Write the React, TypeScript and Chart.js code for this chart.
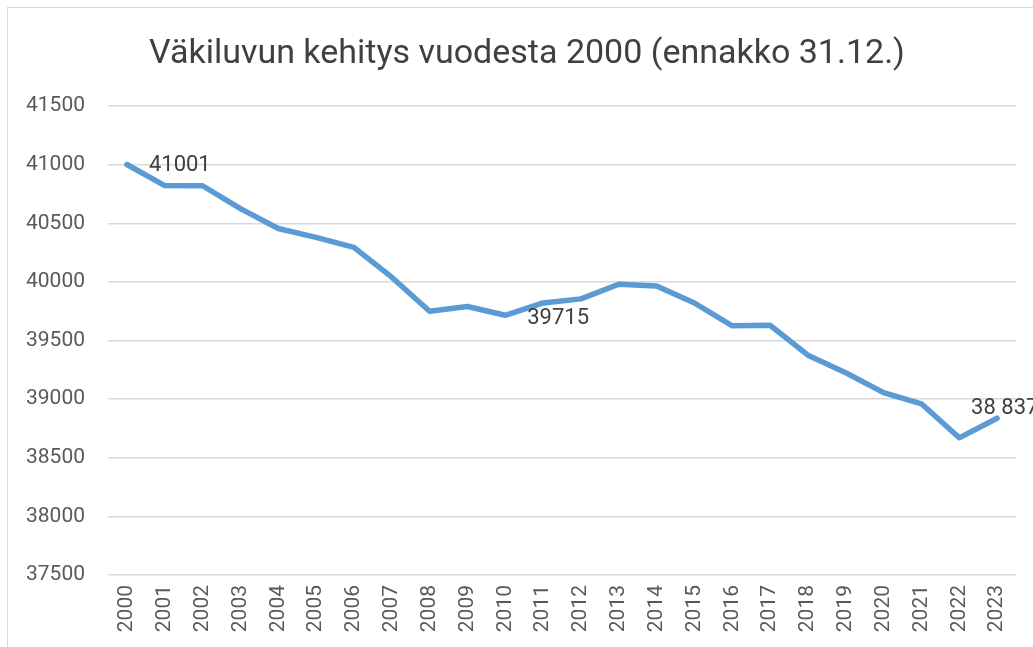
import React, { useEffect, useRef } from "react";
import { Chart, registerables } from "chart.js";

Chart.register(...registerables);

const years = [
  "2000", "2001", "2002", "2003", "2004", "2005", "2006", "2007", "2008", "2009", "2010", "2011",
  "2012", "2013", "2014", "2015", "2016", "2017", "2018", "2019", "2020", "2021", "2022", "2023",
];

const population = [
  41001, 40821, 40820, 40625, 40455, 40380, 40295, 40040, 39750, 39790, 39715, 39820,
  39855, 39980, 39965, 39820, 39625, 39630, 39375, 39225, 39055, 38960, 38670, 38837,
];

const labelledIndices = [0, 10, 23];
const labelTexts = ["41001", "39715", "38 837"];

const titleText = "Väkiluvun kehitys vuodesta 2000 (ennakko 31.12.)";
const fontFamily = "Roboto, 'Liberation Sans', sans-serif";

const titlePlugin = {
  id: "customTitle",
  afterDraw(chart: any) {
    const ctx = chart.ctx;
    ctx.save();
    ctx.font = `34px ${fontFamily}`;
    ctx.fillStyle = "#404040";
    ctx.textAlign = "center";
    ctx.textBaseline = "middle";
    ctx.fillText(titleText, 527, 54);
    ctx.restore();
  },
};

const dataLabelPlugin = {
  id: "dataLabels",
  afterDatasetsDraw(chart: any) {
    const ctx = chart.ctx;
    const meta = chart.getDatasetMeta(0);
    ctx.save();
    ctx.font = `22px ${fontFamily}`;
    ctx.fillStyle = "#404040";
    ctx.textBaseline = "middle";
    ctx.textAlign = "left";
    labelledIndices.forEach((idx, k) => {
      const pt = meta.data[idx];
      if (!pt) return;
      let dx = 22;
      let dy = 1;
      if (idx === 10) {
        dx = 22;
        dy = 3;
      }
      if (idx === 23) {
        dx = -26;
        dy = -10;
      }
      ctx.fillText(labelTexts[k], pt.x + dx, pt.y + dy);
    });
    ctx.restore();
  },
};

export default function App() {
  const canvasRef = useRef<HTMLCanvasElement | null>(null);

  useEffect(() => {
    if (!canvasRef.current) return;
    const chart = new Chart(canvasRef.current, {
      type: "line",
      data: {
        labels: years,
        datasets: [
          {
            data: population,
            borderColor: "#5B9BD5",
            borderWidth: 5.5,
            pointRadius: 0,
            pointHoverRadius: 0,
            tension: 0,
            fill: false,
            borderJoinStyle: "round",
            borderCapStyle: "round",
          },
        ],
      },
      options: {
        responsive: false,
        animation: false,
        layout: { padding: { top: 106, right: 17, bottom: 0, left: 0 } },
        plugins: {
          legend: { display: false },
          tooltip: { enabled: false },
          title: { display: false },
        },
        scales: {
          x: {
            offset: true,
            grid: { display: false, drawTicks: false },
            border: { display: false },
            afterFit: (scale: any) => {
              scale.height = 72;
            },
            ticks: {
              color: "#595959",
              font: { family: fontFamily, size: 21 },
              minRotation: 90,
              maxRotation: 90,
              autoSkip: false,
              padding: 10,
            },
          },
          y: {
            min: 37500,
            max: 41500,
            grid: { color: "#d9d9d9", lineWidth: 1.5, drawTicks: false },
            border: { display: false },
            afterFit: (scale: any) => {
              scale.width = 108;
            },
            ticks: {
              stepSize: 500,
              color: "#595959",
              font: { family: fontFamily, size: 21 },
              padding: 23,
              callback: (v: any) => String(v),
            },
          },
        },
      },
      plugins: [dataLabelPlugin, titlePlugin],
    });
    return () => chart.destroy();
  }, []);

  return (
    <div style={{ position: "absolute", left: 0, top: 0, width: 1033, height: 647, background: "#fff" }}>
      <div
        style={{
          position: "absolute",
          left: 7,
          top: 7,
          width: 1040,
          height: 660,
          border: "1px solid #d9d9d9",
        }}
      />
      <canvas ref={canvasRef} width={1033} height={647} style={{ position: "absolute", left: 0, top: 0 }} />
    </div>
  );
}
